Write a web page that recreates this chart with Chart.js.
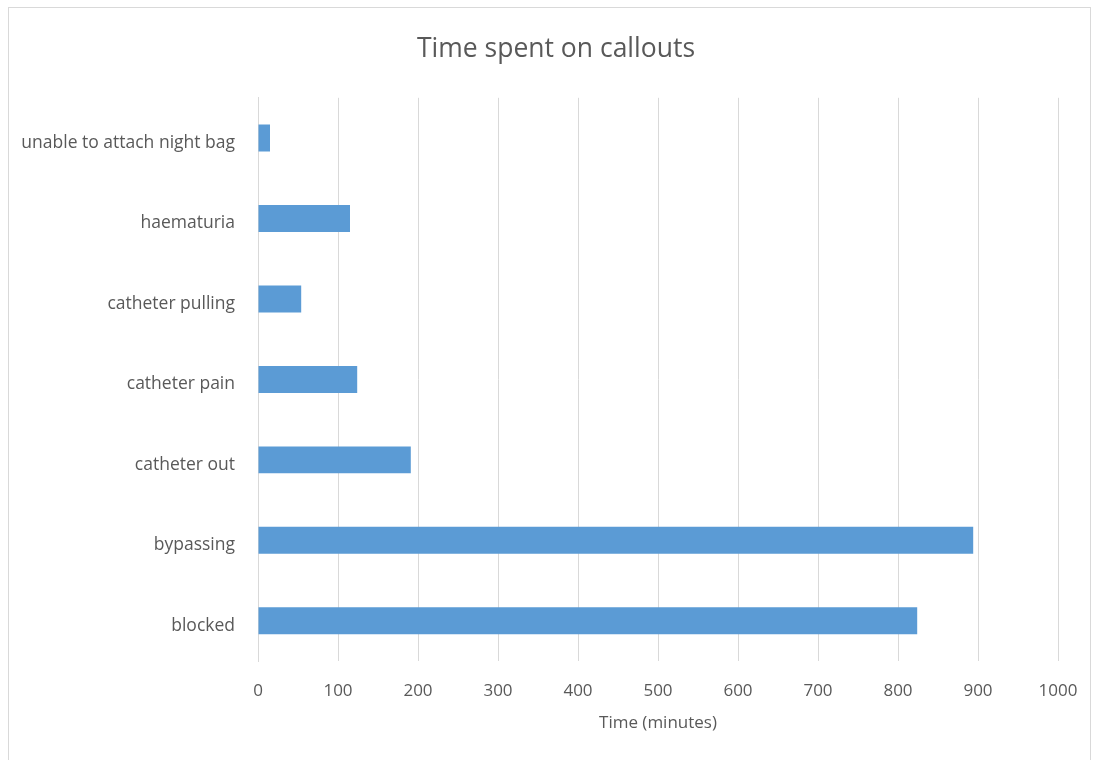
<!DOCTYPE html>
<html>
<head>
<meta charset="utf-8">
<script src="https://cdn.jsdelivr.net/npm/chart.js@4.4.1/dist/chart.umd.min.js"></script>
<style>
  html, body { margin: 0; padding: 0; background: #ffffff; }
  #frame { position: absolute; left: 8px; top: 7px; width: 1083px; height: 760px; border: 1px solid #d9d9d9; box-sizing: border-box; }
  #wrap { position: absolute; left: 0; top: 0; width: 1094px; height: 760px; }
</style>
</head>
<body>
<div id="frame"></div>
<div id="wrap"><canvas id="c" width="1094" height="760"></canvas></div>
<script>
const categories = [
  "unable to attach night bag",
  "haematuria",
  "catheter pulling",
  "catheter pain",
  "catheter out",
  "bypassing",
  "blocked"
];
const timeMinutes = [15, 115, 54, 124, 191, 894, 824];
const xTicks = [0, 100, 200, 300, 400, 500, 600, 700, 800, 900, 1000];

const FONT = "'Open Sans', 'Liberation Sans', sans-serif";
const TXT = "#595959";

// Shift the title box so it is centred like the reference (x ≈ 556).
const titleShift = {
  id: 'titleShift',
  afterLayout(chart) {
    const t = chart.titleBlock;
    if (t) { t.left = 54; t.width = t.right - t.left; }
  }
};

new Chart(document.getElementById('c'), {
  type: 'bar',
  data: {
    labels: categories,
    datasets: [{
      label: 'Time (minutes)',
      data: timeMinutes,
      backgroundColor: '#5B9BD5',
      borderWidth: 0,
      barPercentage: 0.335,
      categoryPercentage: 1.0
    }]
  },
  plugins: [titleShift],
  options: {
    indexAxis: 'y',
    responsive: false,
    animation: false,
    devicePixelRatio: 1,
    layout: { padding: { left: 8, right: 36, top: 0, bottom: 27 } },
    plugins: {
      legend: { display: false },
      tooltip: { enabled: false },
      title: {
        display: true,
        text: 'Time spent on callouts',
        color: TXT,
        font: { family: FONT, size: 26.5, weight: 'normal' },
        padding: { top: 34, bottom: 32 }
      }
    },
    scales: {
      x: {
        min: 0, max: 1000,
        afterBuildTicks(scale) { scale.ticks = xTicks.map(v => ({ value: v })); },
        afterFit(scale) { scale.height = 72; scale.paddingLeft = 0; scale.paddingRight = 0; },
        grid: { color: '#d9d9d9', lineWidth: 1, drawTicks: false },
        border: { display: false },
        ticks: { color: TXT, font: { family: FONT, size: 17 }, padding: 20, maxRotation: 0,
                 callback: (v) => String(v) },
        title: { display: true, text: 'Time (minutes)', color: TXT, font: { family: FONT, size: 17 }, padding: { top: 4, bottom: 0 } }
      },
      y: {
        afterFit(scale) { scale.width = 250; scale.paddingTop = 0; scale.paddingBottom = 0; },
        grid: { display: false, drawTicks: false },
        border: { display: true, color: '#d9d9d9', width: 1 },
        ticks: { color: TXT, font: { family: FONT, size: 17.5 }, padding: 23, labelOffset: 5 }
      }
    }
  }
});
</script>
</body>
</html>
